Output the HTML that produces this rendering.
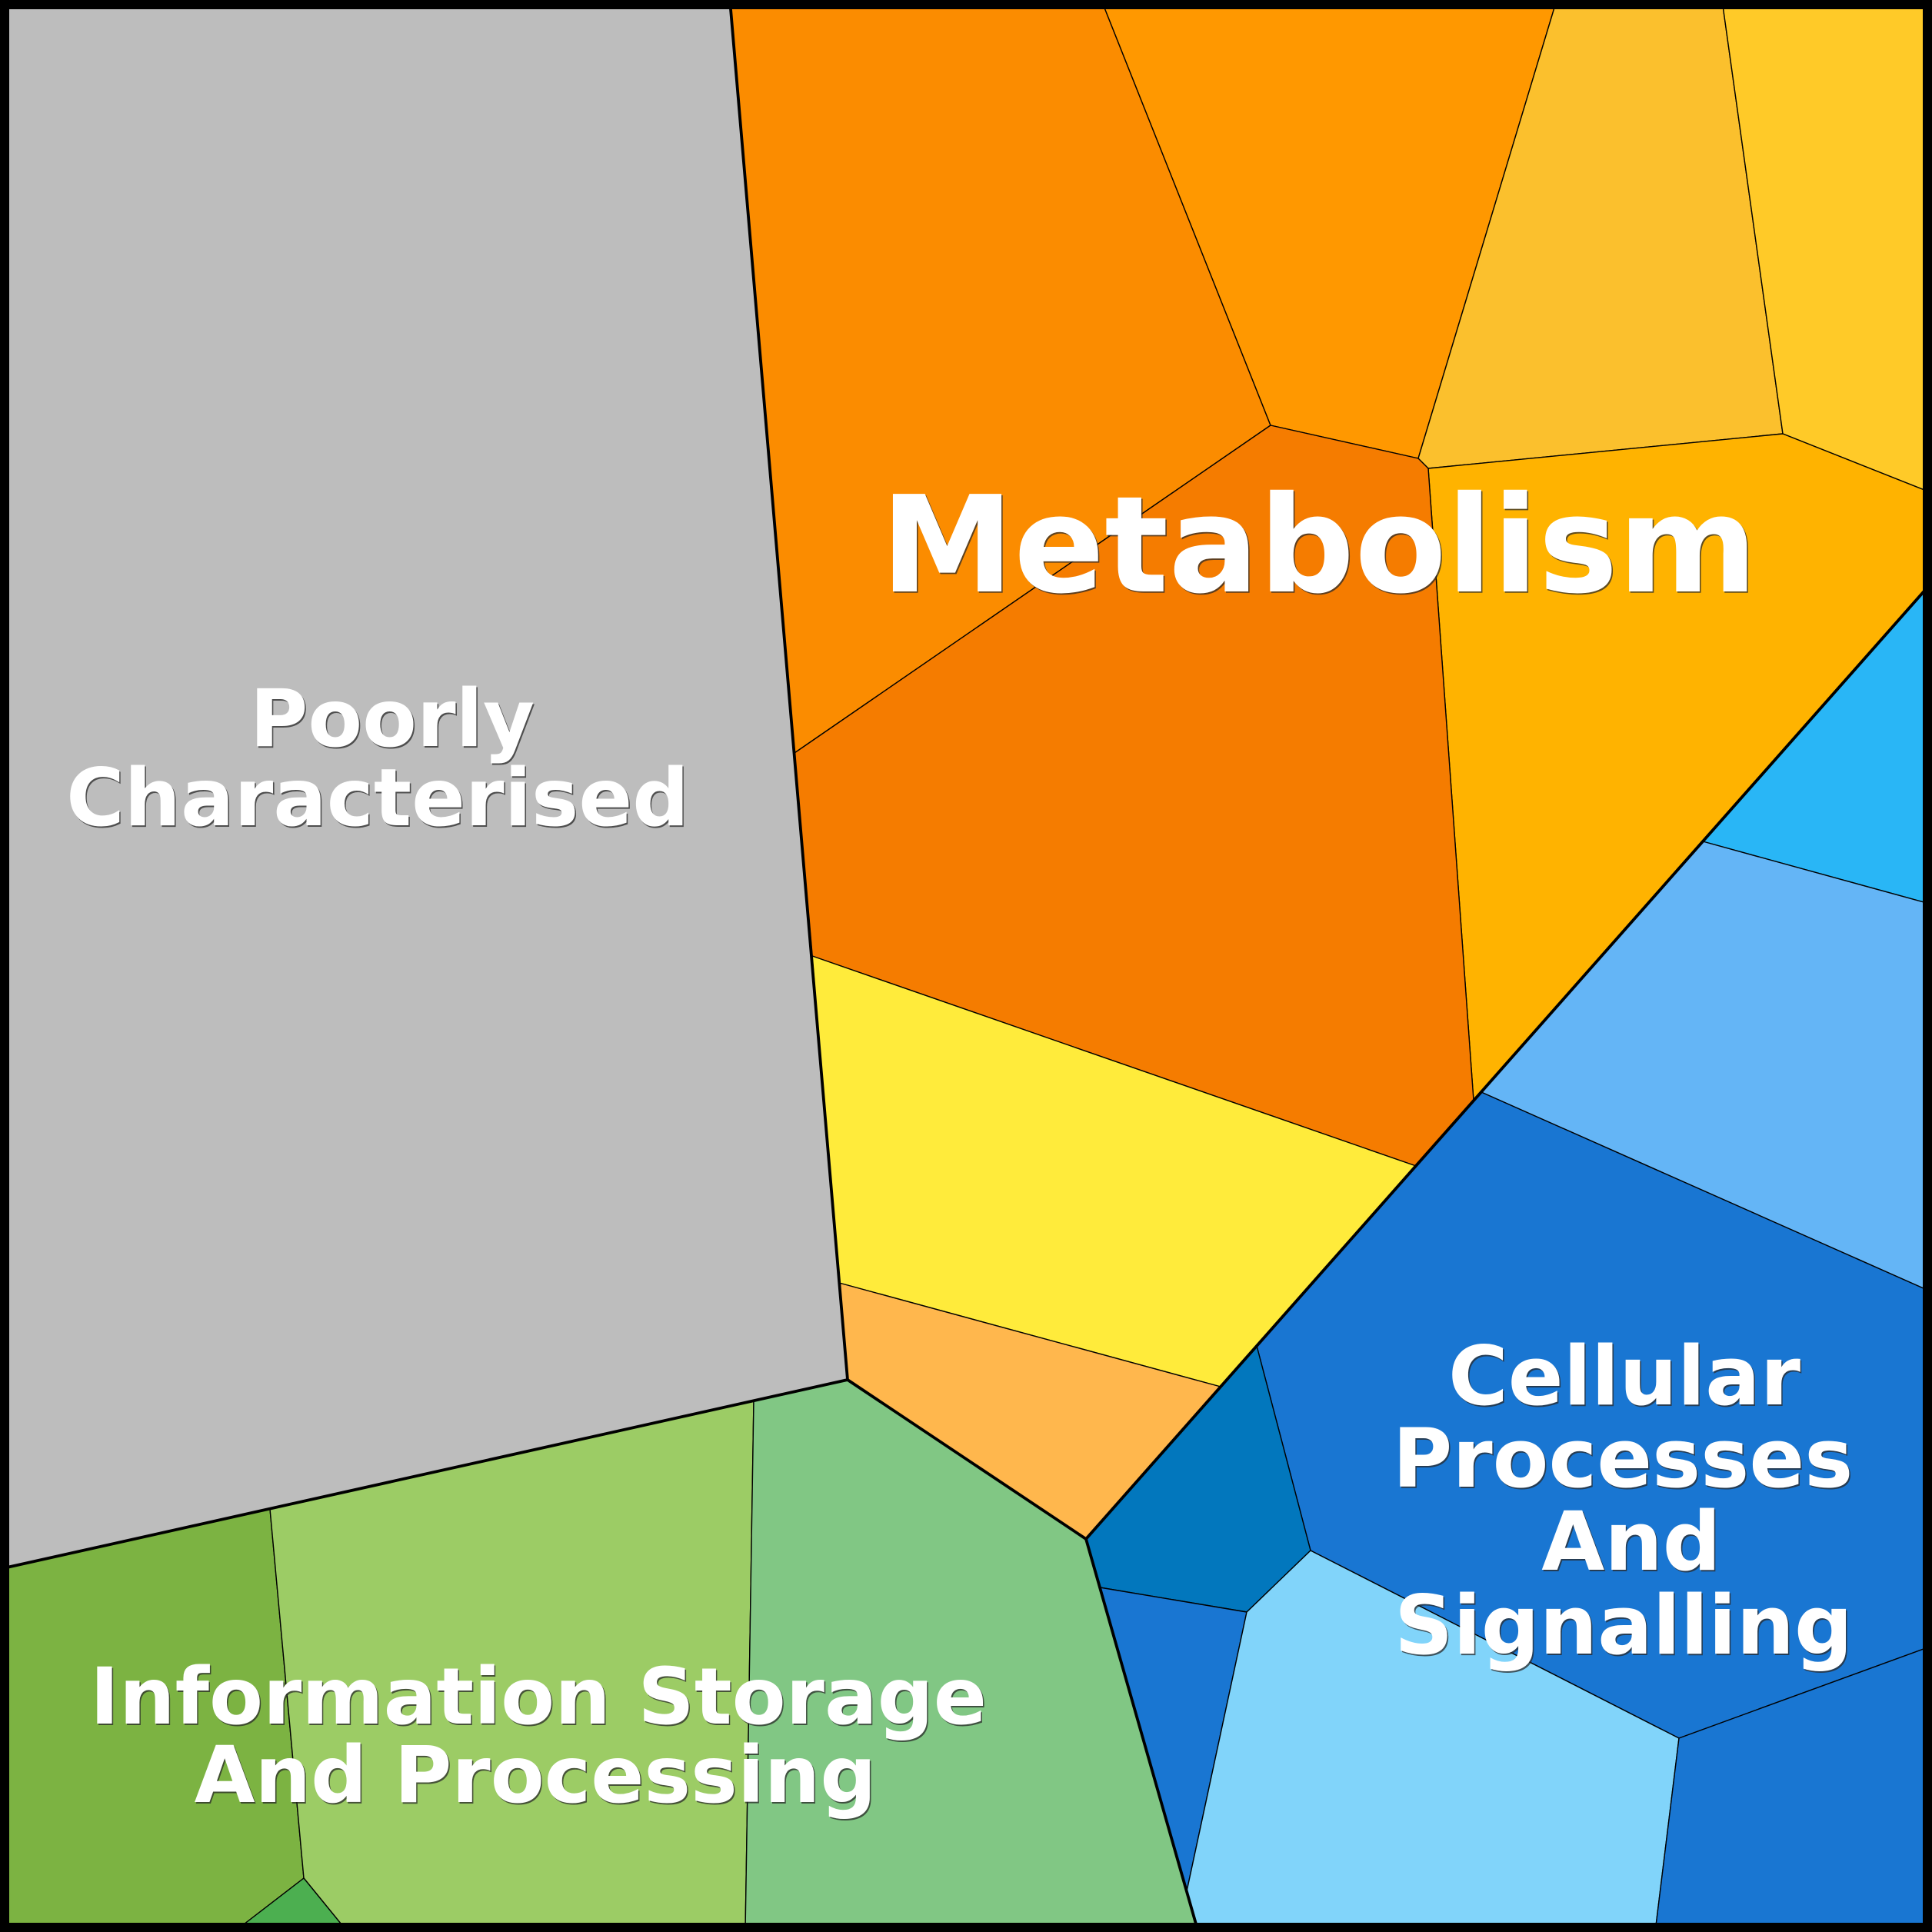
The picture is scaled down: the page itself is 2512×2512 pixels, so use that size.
<!DOCTYPE html>
<html>
<head>
<meta charset="utf-8">
<style>
html,body{margin:0;padding:0;background:#fff;}
svg{display:block;}
.t{font-family:"DejaVu Sans","Liberation Sans",sans-serif;font-weight:bold;text-anchor:middle;}
.sh{fill:#2a2a2a;fill-opacity:0.75;}
.fg{fill:#ffffff;}
</style>
</head>
<body>
<svg width="2512" height="2512" viewBox="0 0 2512 2512" xmlns="http://www.w3.org/2000/svg">
<g stroke="#000" stroke-width="1.4" stroke-linejoin="round">
<!-- Poorly characterised -->
<polygon fill="#BDBDBD" points="0,0 949,0 1102,1794 0,2040"/>
<!-- Metabolism -->
<polygon fill="#FB8C00" points="949,0 1432,0 1652,553 1033,979"/>
<polygon fill="#FF9800" points="1432,0 2024,0 1844,596 1652,553"/>
<polygon fill="#FBC02D" points="2024,0 2239,0 2318,564 1857,609 1844,596"/>
<polygon fill="#FFCA28" points="2239,0 2512,0 2512,641 2318,564"/>
<polygon fill="#FFB300" points="1857,609 2318,564 2512,641 2512,757 1916,1431"/>
<polygon fill="#F57C00" points="1033,979 1652,553 1844,596 1857,609 1916,1431 1841,1516 1056,1243"/>
<polygon fill="#FFEB3B" points="1056,1243 1841,1516 1587,1803 1091,1668"/>
<polygon fill="#FFB74D" points="1091,1668 1587,1803 1412,2001 1102,1794"/>
<!-- Cellular -->
<polygon fill="#29B6F6" points="2512,757 2214,1094 2512,1176"/>
<polygon fill="#64B5F6" points="2214,1094 2512,1176 2512,1680 1926,1420"/>
<polygon fill="#1976D2" points="1926,1420 2512,1680 2512,2140 2183,2260 1704,2016 1634,1750"/>
<polygon fill="#0277BD" points="1634,1750 1704,2016 1621,2096 1430,2064 1412,2001"/>
<polygon fill="#1976D2" points="1430,2064 1621,2096 1543,2459"/>
<polygon fill="#81D4FA" points="1621,2096 1704,2016 2183,2260 2152,2512 1558,2512 1543,2459"/>
<polygon fill="#1976D2" points="2183,2260 2512,2140 2512,2512 2152,2512"/>
<!-- Information -->
<polygon fill="#7CB342" points="0,2040 351,1962 395,2442 304,2512 0,2512"/>
<polygon fill="#9CCC65" points="351,1962 980,1821 969,2512 452,2512 395,2442"/>
<polygon fill="#81C784" points="980,1821 1102,1794 1412,2001 1558,2512 969,2512"/>
<polygon fill="#4CAF50" points="395,2442 452,2512 304,2512"/>
</g>
<!-- main thick boundaries -->
<g stroke="#000" stroke-width="3.8" stroke-linecap="round" stroke-linejoin="round" fill="none">
<polyline points="949,0 1102,1794 1412,2001 2512,757"/>
<polyline points="0,2040 1102,1794"/>
<polyline points="1412,2001 1558,2512"/>
</g>
<!-- frame -->
<rect x="6" y="6" width="2500" height="2500" fill="none" stroke="#000" stroke-width="12"/>

<!-- labels: shadows -->
<g class="t sh" transform="translate(1.6,1.8)">
<text x="1715" y="769" font-size="174">Metabolism</text>
<text x="510" y="970" font-size="103">Poorly</text>
<text x="491" y="1073" font-size="103">Characterised</text>
<text x="700" y="2241" font-size="102">Information Storage</text>
<text x="696" y="2343" font-size="102">And Processing</text>
<text x="2112" y="1826" font-size="106">Cellular</text>
<text x="2110" y="1933" font-size="106">Processes</text>
<text x="2121" y="2041" font-size="106">And</text>
<text x="2111" y="2150" font-size="106">Signalling</text>
</g>
<g class="t fg">
<text x="1715" y="769" font-size="174">Metabolism</text>
<text x="510" y="970" font-size="103">Poorly</text>
<text x="491" y="1073" font-size="103">Characterised</text>
<text x="700" y="2241" font-size="102">Information Storage</text>
<text x="696" y="2343" font-size="102">And Processing</text>
<text x="2112" y="1826" font-size="106">Cellular</text>
<text x="2110" y="1933" font-size="106">Processes</text>
<text x="2121" y="2041" font-size="106">And</text>
<text x="2111" y="2150" font-size="106">Signalling</text>
</g>
</svg>
</body>
</html>
